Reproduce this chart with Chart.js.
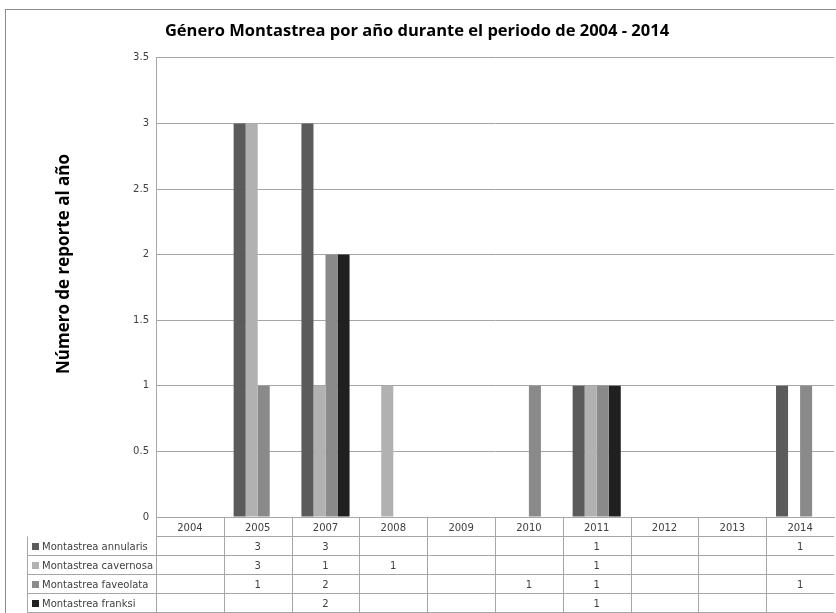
<!DOCTYPE html>
<html>
<head>
<meta charset="utf-8">
<script src="https://cdn.jsdelivr.net/npm/chart.js@4.4.0/dist/chart.umd.min.js"></script>
<style>
body { margin: 0; background: #ffffff; }
#wrap { width: 836px; height: 613px; }
</style>
</head>
<body>
<div id="wrap"><canvas id="chart" width="836" height="613"></canvas></div>
<script>
// ----------------------------------------------------------------------
//	Género Montastrea por año
// ----------------------------------------------------------------------
const categories = ["2004","2005","2007","2008","2009","2010","2011","2012","2013","2014"]

const annularis = [null,3,3,null,null,null,1,null,null,1]
const cavernosa = [null,3,1,1,null,null,1,null,null,null]
const faveolata = [null,1,2,null,null,1,1,null,null,1]
const franksi   = [null,null,2,null,null,null,1,null,null,null]

const series_names = ["Montastrea annularis","Montastrea cavernosa","Montastrea faveolata","Montastrea franksi"]
const series_colors = ["#5b5b5b","#b1b1b1","#8a8a8a","#202020"]

const title_text = "Género Montastrea por año durante el periodo de 2004 - 2014"
const y_title = "Número de reporte al año"

const y_ticks = [0,0.5,1,1.5,2,2.5,3,3.5]

// ----------------------------------------------------------------------
const all_series = [annularis,cavernosa,faveolata,franksi]

const datasets = all_series.map(function (values,it)
	{
	return {
		label: series_names[it],
		data: values,
		backgroundColor: series_colors[it],
		borderWidth: 0,
		categoryPercentage: 0.71,
		barPercentage: 1.0
		}
	})

// ----------------------------------------------------------------------
const row_h = 19
const label_left = 27
const line_color = "#a6a6a6"

const frame_plugin = {
	id: 'frame',
	beforeDraw (chart)
	{
		const ctx = chart.ctx
		ctx.save()
		ctx.fillStyle = "#ffffff"
		ctx.fillRect(0,0,chart.width,chart.height)
		ctx.strokeStyle = "#8c8c8c"
		ctx.lineWidth = 1
		ctx.strokeRect(5.5,9.5,chart.width,chart.height)
		ctx.restore()
	},
	afterDraw (chart)
	{
		const ctx = chart.ctx
		const area = chart.chartArea
		const xs = chart.scales.x
		const step = xs.width / categories.length
		const top = Math.round(area.bottom) + 0.5
		const bottom = top + row_h * (all_series.length + 1)

		ctx.save()
		ctx.strokeStyle = line_color
		ctx.lineWidth = 1

		// horizontal rules
		ctx.beginPath()
		ctx.moveTo(area.left,top + row_h)
		ctx.lineTo(area.right,top + row_h)
		for (let rr = 1; rr <= all_series.length; rr++)
			{
			const yy = top + row_h * (rr + 1)
			ctx.moveTo(label_left,Math.min(yy,chart.height - 0.5))
			ctx.lineTo(area.right,Math.min(yy,chart.height - 0.5))
			}
		ctx.moveTo(label_left + 0.5,top + row_h)
		ctx.lineTo(label_left + 0.5,bottom)

		// vertical rules
		for (let cc = 0; cc < categories.length; cc++)
			{
			const xx = Math.round(xs.left + step * cc) + 0.5
			ctx.moveTo(xx,top)
			ctx.lineTo(xx,bottom)
			}
		ctx.stroke()

		// header and cells
		ctx.fillStyle = "#404040"
		ctx.font = "10px 'DejaVu Sans'"
		ctx.textAlign = "center"
		ctx.textBaseline = "middle"
		categories.forEach(function (cat,cc)
			{
			const xx = xs.getPixelForValue(cc)
			ctx.fillText(cat,xx,top + row_h / 2 + 1)
			all_series.forEach(function (values,rr)
				{
				if (values[cc] !== null)
					{
					ctx.fillText(String(values[cc]),xx,top + row_h * (rr + 1.5) + 1)
					}
				})
			})

		// series labels with keys
		ctx.textAlign = "left"
		series_names.forEach(function (name,rr)
			{
			const yy = top + row_h * (rr + 1.5)
			ctx.fillStyle = series_colors[rr]
			ctx.fillRect(label_left + 5,yy - 3,7,7)
			ctx.fillStyle = "#404040"
			ctx.fillText(name,label_left + 15,yy + 1)
			})

		// y axis title
		ctx.translate(64,264)
		ctx.rotate(-Math.PI / 2)
		ctx.textAlign = "center"
		ctx.fillStyle = "#000000"
		ctx.font = "bold 17px 'Open Sans'"
		ctx.fillText(y_title,0,0)
		ctx.restore()
	}
}

// ----------------------------------------------------------------------
const config = {
	type: 'bar',
	data: {
		labels: categories,
		datasets: datasets
		},
	options: {
		responsive: false,
		animation: false,
		layout: { padding: { left: 0, right: 2, top: 0, bottom: 0 } },
		plugins: {
			legend: { display: false },
			tooltip: { enabled: false },
			title: {
				display: true,
				text: title_text,
				color: "#000000",
				font: { family: "Open Sans", size: 16.5, weight: "bold" },
				padding: { top: 21, bottom: 17 }
				},
			},
		scales: {
			x: {
				ticks: { display: false },
				grid: { display: false },
				border: { display: true, color: line_color },
				afterFit: function (scale) { scale.height = 96 }
				},
			y: {
				min: 0,
				max: 3.5,
				afterBuildTicks: function (scale) { scale.ticks = y_ticks.map(function (v) { return { value: v } }) },
				ticks: {
					color: "#404040",
					font: { family: "DejaVu Sans", size: 10 },
					padding: 7,
					callback: function (value) { return String(value) }
					},
				grid: { color: line_color, drawTicks: false },
				border: { display: true, color: line_color },
				afterFit: function (scale) { scale.width = 156 }
				}
			}
		},
	plugins: [frame_plugin]
	}

const chart = new Chart(document.getElementById("chart"),config)

// ----------------------------------------------------------------------
</script>
</body>
</html>
